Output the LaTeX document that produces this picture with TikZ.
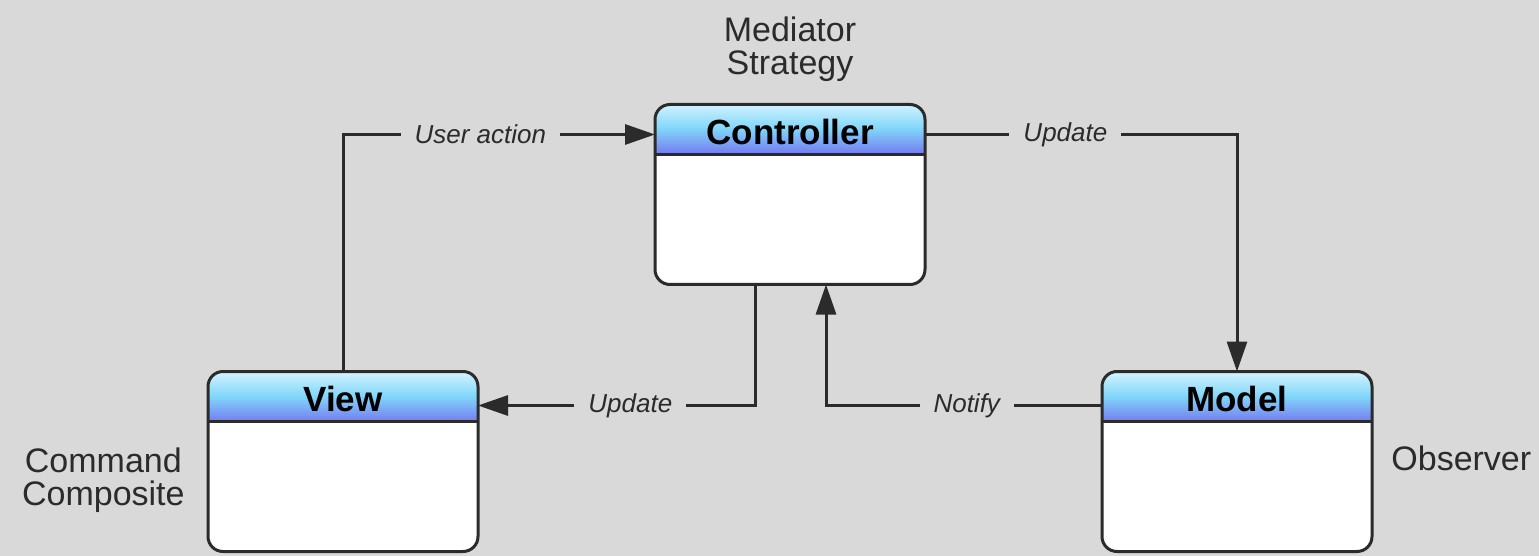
\documentclass[tikz,border=0pt]{standalone}
\usepackage{fontspec}
\setmainfont{Liberation Sans}
\usetikzlibrary{positioning, arrows.meta}

\definecolor{paper}{HTML}{D9D9D9}
\definecolor{headtop}{HTML}{D2F2FF}
\definecolor{headmid}{HTML}{80D6F8}
\definecolor{headbot}{HTML}{7480F0}
\definecolor{ink}{HTML}{2B2B2B}

\tikzset{
  classbox/.style={draw=ink, line width=1.5pt, rounded corners=7.5pt, fill=white,
    minimum width=135pt, outer sep=0pt, inner ysep=4.5pt,
    text height=15.5pt, text depth=65.5pt,
    font=\bfseries\fontsize{17.5}{20}\selectfont,
    path picture={
      \foreach \i in {0,...,12} {
        \pgfmathsetmacro\t{100-\i*100/12}
        \fill[sharp corners, headtop!\t!headmid]
          ([yshift=-\i pt]path picture bounding box.north west) rectangle ([yshift=-\i pt-1.2pt]path picture bounding box.north east);
      }
      \foreach \i in {13,...,24} {
        \pgfmathsetmacro\t{100-(\i-12)*100/12}
        \fill[sharp corners, headmid!\t!headbot]
          ([yshift=-\i pt]path picture bounding box.north west) rectangle ([yshift=-\i pt-1.2pt]path picture bounding box.north east);
      }
      \draw[sharp corners, ink, line width=1.5pt]
        ([yshift=-25pt]path picture bounding box.north west) -- ([yshift=-25pt]path picture bounding box.north east);
    }},
  note/.style={align=center, inner sep=0pt, text=ink,
    font=\fontsize{17}{16.5}\selectfont},
  link/.style={draw=ink, line width=1.5pt, -{Triangle[length=15pt, width=10pt]}},
  lbl/.style={fill=paper, text=ink, inner xsep=7pt, inner ysep=2pt,
    font=\itshape\fontsize{13}{15}\selectfont}
}

\begin{document}
\begin{tikzpicture}[x=0.5pt, y=-0.5pt]
\useasboundingbox (0,0) rectangle (1539,556);
\fill[paper] (0,0) rectangle (1539,556);

% the three classes
\node[classbox] (C) at (790,194.5) {Controller};
\node[classbox, below=43.5pt of C, xshift=-223.5pt] (V) {View};
\node[classbox, below=43.5pt of C, xshift=223.5pt] (M) {Model};

% pattern names
\node[note, above=11.5pt of C] (Ms) {Mediator\\Strategy};
\node[note, left=11.5pt of V, yshift=-9.5pt] (Cc) {Command\\Composite};
\node[note, right=9.5pt of M, yshift=1.7pt] (Ob) {Observer};

% messages
\draw[link] (V.north) |- ([yshift=-15pt]C.north west) node[lbl, pos=0.72] {User action};
\draw[link] ([yshift=-15pt]C.north east) -| (M.north) node[lbl, pos=0.225] {Update};
\draw[link] ([xshift=-17.5pt]C.south) |- ([yshift=-17pt]V.north east) node[lbl, pos=0.725] {Update};
\draw[link] ([yshift=-17pt]M.north west) -| ([xshift=18pt]C.south) node[lbl, pos=0.245] {Notify};
\end{tikzpicture}
\end{document}
